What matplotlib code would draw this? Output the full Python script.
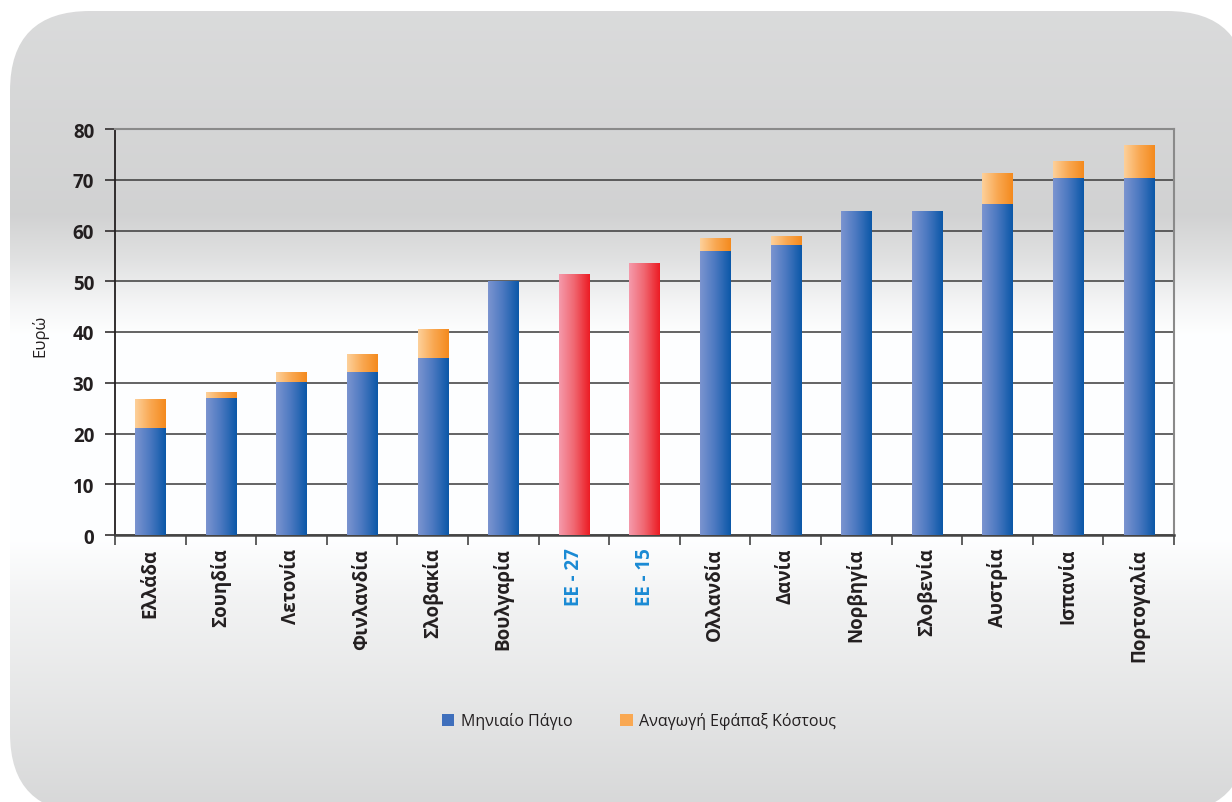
import numpy as np
import matplotlib
matplotlib.use('Agg')
import matplotlib.pyplot as plt
from matplotlib.colors import LinearSegmentedColormap
from matplotlib.patches import FancyBboxPatch, Patch

plt.rcParams['font.family'] = ['Open Sans', 'DejaVu Sans']

countries = ['Ελλάδα', 'Σουηδία', 'Λετονία', 'Φινλανδία', 'Σλοβακία', 'Βουλγαρία',
             'ΕΕ - 27', 'ΕΕ - 15', 'Ολλανδία', 'Δανία', 'Νορβηγία', 'Σλοβενία',
             'Αυστρία', 'Ισπανία', 'Πορτογαλία']
monthly = [21.0, 27.0, 30.1, 32.1, 34.9, 50.0, 51.4, 53.5, 55.9, 57.1, 63.8, 63.8, 65.2, 70.3, 70.3]
oneoff = [5.7, 1.1, 1.8, 3.5, 5.7, 0, 0, 0, 2.4, 1.6, 0, 0, 6.1, 3.3, 6.5]
eu_bars = ['ΕΕ - 27', 'ΕΕ - 15']

blue_cm = LinearSegmentedColormap.from_list('b', ['#7b94d0', '#4a78c0', '#0b58a8'])
orange_cm = LinearSegmentedColormap.from_list('o', ['#fdd09a', '#f9a852', '#f48a1e'])
red_cm = LinearSegmentedColormap.from_list('r', ['#f59aab', '#f06670', '#ec1c24'])

W, H = 1232, 803
fig = plt.figure(figsize=(W / 100, H / 100), dpi=100)
fig.patch.set_facecolor('white')

# rounded gradient backdrop
bg = fig.add_axes([0, 0, 1, 1], zorder=-10)
bg.set_xlim(0, W)
bg.set_ylim(H, 0)
bg.axis('off')
ys = np.array([0, 12, 215, 260, 305, 335, 540, 600, 700, 803])
lv = np.array([0.86, 0.86, 0.825, 0.885, 0.965, 1.0, 1.0, 0.955, 0.905, 0.85])
col = np.interp(np.arange(H), ys, lv)
grad = np.repeat(col[:, None], 4, axis=1)
img = np.dstack([grad * 0.995, grad * 0.998, grad * 1.0])
img = np.clip(img, 0, 1)
im = bg.imshow(img, extent=[0, W, H, 0], aspect='auto')
box = FancyBboxPatch((10, 12), 1237, 802, boxstyle='round,pad=0,rounding_size=80',
                     transform=bg.transData, facecolor='none', edgecolor='none')
bg.add_patch(box)
im.set_clip_path(box)

ax = fig.add_axes([115 / W, 1 - 536 / H, (1174 - 115) / W, (536 - 130) / H])
ax.set_facecolor('none')

x = np.arange(len(countries))
width = 0.425
b1 = ax.bar(x, monthly, width, color='none')
b2 = ax.bar(x, oneoff, width, bottom=monthly, color='none')

ramp = np.linspace(0, 1, 64)[None, :]
for name, bar in zip(countries, b1):
    cm = red_cm if name in eu_bars else blue_cm
    bx, by = bar.get_xy()
    ax.imshow(ramp, extent=[bx, bx + bar.get_width(), by, by + bar.get_height()],
              aspect='auto', cmap=cm, zorder=3)
for bar in b2:
    if bar.get_height() <= 0:
        continue
    bx, by = bar.get_xy()
    ax.imshow(ramp, extent=[bx, bx + bar.get_width(), by, by + bar.get_height()],
              aspect='auto', cmap=orange_cm, zorder=3)

ax.set_xlim(-0.5, len(countries) - 0.5)
ax.set_ylim(0, 80)
ax.set_yticks(range(0, 81, 10))
ax.yaxis.grid(True, color='#3a3a3a', lw=1.1)
ax.set_axisbelow(True)

ax.set_xticks(x)
ax.set_xticklabels(countries, rotation=90, fontsize=13.5, fontweight='bold', color='#231f20')
for lab in ax.get_xticklabels():
    if lab.get_text() in eu_bars:
        lab.set_color('#1a8ad4')
ax.tick_params(axis='x', which='major', length=0, pad=9)
ax.set_xticks(np.arange(-0.5, len(countries), 1), minor=True)
ax.tick_params(axis='x', which='minor', length=7, width=1.2, color='#444444')
ax.tick_params(axis='y', length=7, width=1.1, color='#231f20', pad=8)
for lab in ax.get_yticklabels():
    lab.set_fontsize(13.5)
    lab.set_fontweight('bold')
    lab.set_color('#231f20')

ax.spines['left'].set_color('#231f20')
ax.spines['left'].set_linewidth(1.3)
ax.spines['bottom'].set_color('#444444')
ax.spines['bottom'].set_linewidth(1.8)
ax.spines['top'].set_color('#8a8a8a')
ax.spines['top'].set_linewidth(1.5)
ax.spines['right'].set_color('#8a8a8a')
ax.spines['right'].set_linewidth(1.5)

fig.text(40 / W, 1 - 336 / H, 'Ευρώ', rotation=90, ha='center', va='center',
         fontsize=12, color='#231f20')

handles = [Patch(facecolor='#3f6fbc', edgecolor='none'),
           Patch(facecolor='#f9a852', edgecolor='none')]
fig.legend(handles, ['Μηνιαίο Πάγιο', 'Αναγωγή Εφάπαξ Κόστους'], loc='center',
           bbox_to_anchor=(639 / W, 1 - 722 / H), ncol=2, frameon=False,
           fontsize=11.5, handlelength=0.8, handleheight=0.8, handletextpad=0.4,
           columnspacing=3.0, labelcolor='#231f20')

fig.savefig('out.png', dpi=100)
